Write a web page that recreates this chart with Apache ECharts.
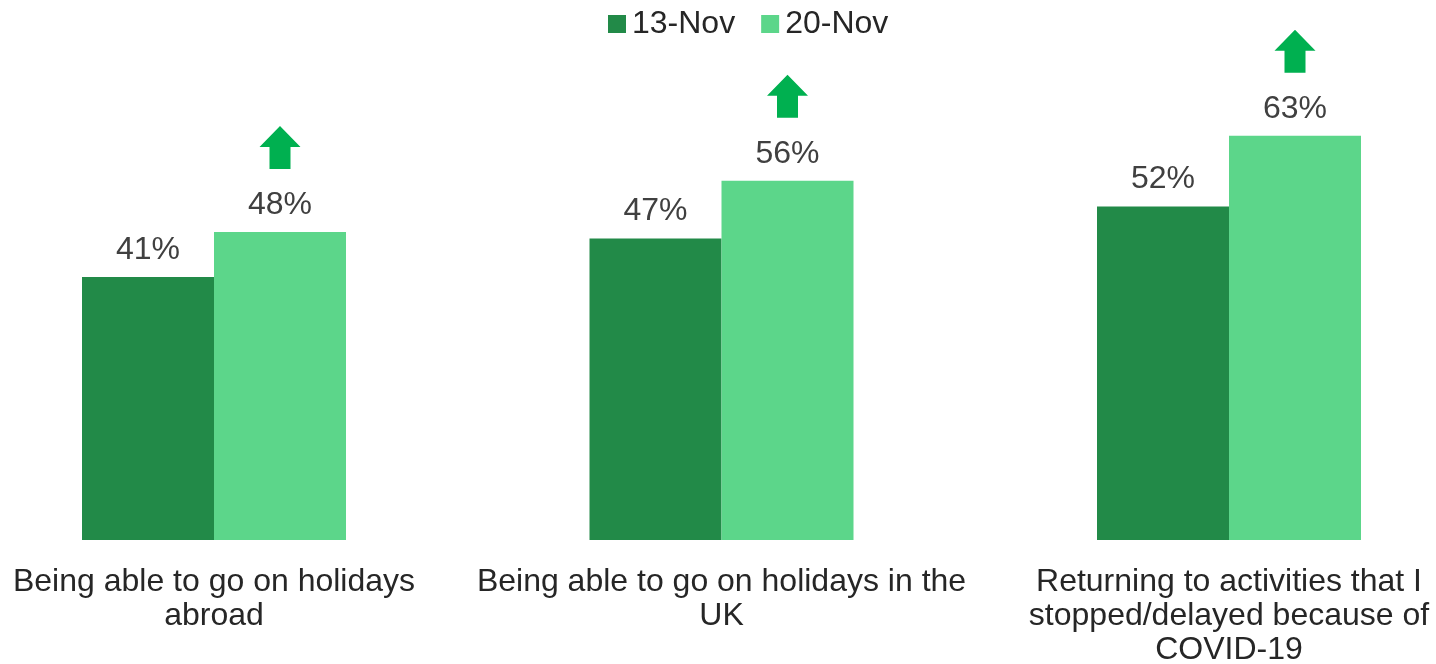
<!DOCTYPE html>
<html>
<head>
<meta charset="utf-8">
<script src="https://cdn.jsdelivr.net/npm/echarts@6/dist/echarts.min.js"></script>
<style>html,body{margin:0;padding:0;background:#fff}#c{width:1436px;height:664px}</style>
</head>
<body>
<div id="c"></div>
<script>
var categories = [
  "Being able to go on holidays\nabroad",
  "Being able to go on holidays in the\nUK",
  "Returning to activities that I\nstopped/delayed because of\nCOVID-19"
];
var nov13 = [41, 47, 52];
var nov20 = [48, 56, 63];
var increased = [1, 1, 1];

var DARK = '#228A48', LIGHT = '#5CD68A', ARROW = '#00B050', TXT = '#404040';
var FONT = '"Liberation Sans", Arial, sans-serif';
var BARW = 132;

var chart = echarts.init(document.getElementById('c'), null, {renderer: 'canvas'});
chart.setOption({
  animation: false,
  textStyle: {fontFamily: FONT},
  legend: {
    data: ['13-Nov', '20-Nov'],
    left: 603, top: 3,
    icon: 'rect', itemWidth: 18, itemHeight: 18, itemGap: 26, itemStyle: {borderWidth: 0},
    textStyle: {fontSize: 32, color: '#262626', fontFamily: FONT, padding: [0, 0, 0, 1]}
  },
  grid: {left: -39.75, right: -46.75, top: 26.8, bottom: 124, containLabel: false, outerBoundsMode: 'none'},
  xAxis: {
    type: 'category', data: categories,
    axisLine: {show: false}, axisTick: {show: false},
    axisLabel: {interval: 0, fontSize: 32, lineHeight: 34, color: '#262626', margin: 25, fontFamily: FONT}
  },
  yAxis: {type: 'value', min: 0, max: 80, show: false, splitLine: {show: false}},
  series: [
    {
      name: '13-Nov', type: 'bar', data: nov13, barWidth: BARW, barGap: '0%',
      itemStyle: {color: DARK},
      label: {show: true, position: 'top', distance: 11, fontSize: 32, color: TXT, formatter: '{c}%', fontFamily: FONT}
    },
    {
      name: '20-Nov', type: 'bar', data: nov20, barWidth: BARW, barGap: '0%',
      itemStyle: {color: LIGHT},
      label: {show: true, position: 'top', distance: 11, fontSize: 32, color: TXT, formatter: '{c}%', fontFamily: FONT}
    },
    {
      name: 'arrows', type: 'custom', clip: false, z: 5,
      data: nov20.map(function (v, i) { return [i, v, increased[i]]; }),
      encode: {x: 0, y: 1},
      renderItem: function (params, api) {
        if (!api.value(2)) return null;
        var p = api.coord([api.value(0), api.value(1)]);
        var cx = p[0] + BARW / 2;
        var b = p[1] - 63;
        var hw = 20.5, sw = 10.5, hh = 21, h = 43;
        return {
          type: 'polygon',
          shape: {points: [
            [cx - sw, b], [cx + sw, b], [cx + sw, b - (h - hh)], [cx + hw, b - (h - hh)],
            [cx, b - h], [cx - hw, b - (h - hh)], [cx - sw, b - (h - hh)]
          ]},
          style: {fill: ARROW}
        };
      }
    }
  ]
});
</script>
</body>
</html>
